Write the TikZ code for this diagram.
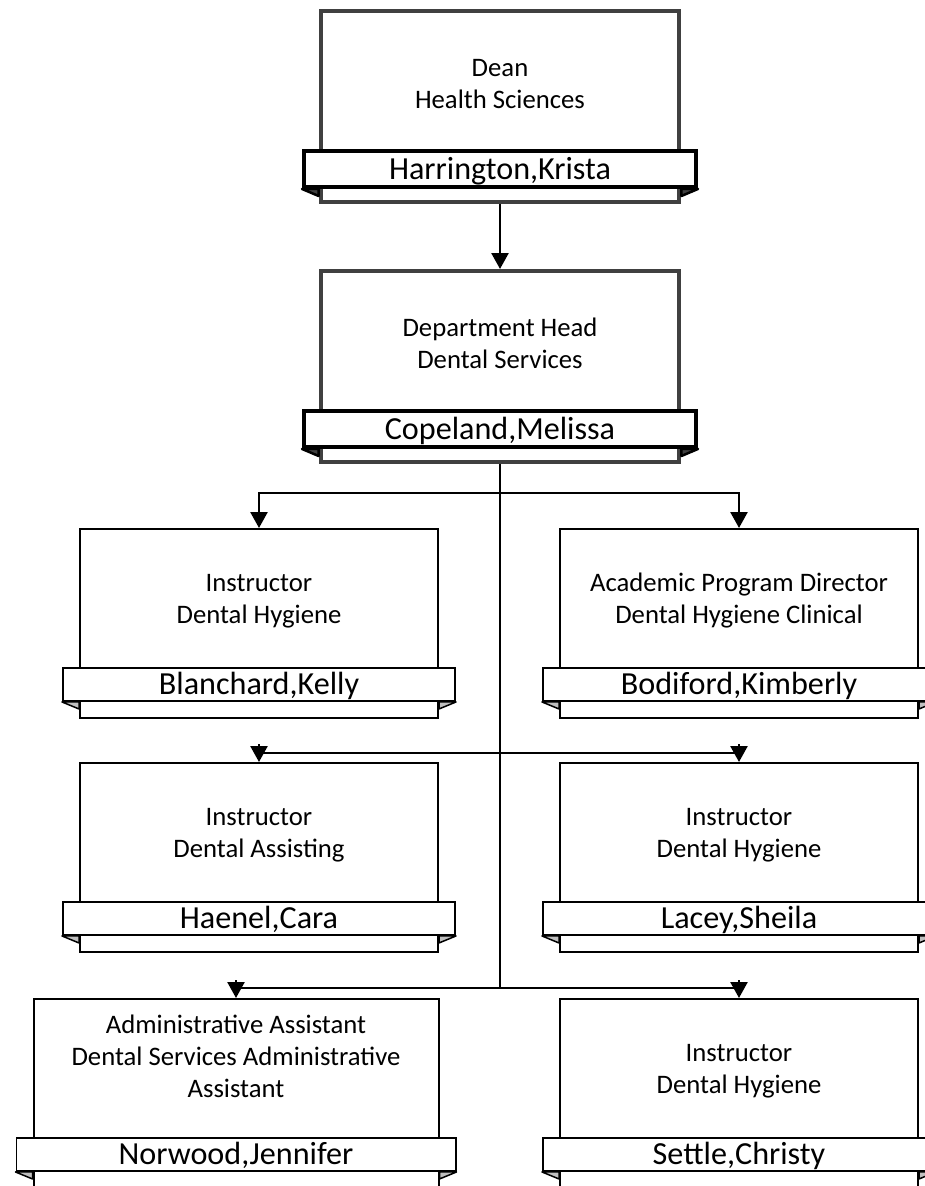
\documentclass[tikz,border=0pt]{standalone}
\usepackage{fontspec}
\setmainfont{Carlito}
\usetikzlibrary{arrows.meta,positioning}

\begin{document}
\begin{tikzpicture}[x=0.02cm,y=-0.02cm,
  >={Triangle[length=0.32cm,width=0.34cm]},
  link/.style={line width=0.05cm},
  headbox/.style={draw=black!75,line width=0.08cm,minimum width=7.18cm,minimum height=3.82cm,inner sep=0pt,anchor=north},
  headbar/.style={draw,fill=white,line width=0.08cm,minimum width=7.84cm,minimum height=0.72cm,inner sep=0pt,
    text height=11.8pt,text depth=0pt,font=\fontsize{18.3}{20}\selectfont},
  staffbox/.style={draw,line width=0.04cm,minimum height=3.78cm,inner sep=0pt,anchor=north},
  staffbar/.style={draw,fill=white,line width=0.04cm,minimum height=0.66cm,inner sep=0pt,
    text height=11.8pt,text depth=0pt,font=\fontsize{18.3}{20}\selectfont},
  jobtitle/.style={align=center,inner sep=0pt,anchor=south,font=\fontsize{15.2}{18.2}\selectfont},
  tail/.style={draw,fill=black!25,line width=0.03cm,line join=round},
  headtail/.style={draw,fill=black!75,line width=0.05cm,line join=round}]

\useasboundingbox (0,0) rectangle (924,1186);

% Dean and department head
\foreach \id/\top/\title/\who in {dean/9/{Dean\\Health Sciences}/{Harrington,Krista},
                                  head/269/{Department Head\\Dental Services}/{Copeland,Melissa}} {
  \node[headbox] (\id) at (500,\top) {};
  \node[jobtitle] (\id-t) at ([yshift=-2cm]\id.north) {\title};
  \node[headbar] (\id-n) at ([yshift=0.7cm]\id.south) {\who};
  \draw[headtail] (\id-n.south west) -- (\id-n.south west -| \id.west) -- ++(0,7) -- cycle;
  \draw[headtail] (\id-n.south east) -- (\id-n.south east -| \id.east) -- ++(0,7) -- cycle;
}

% Staff positions
\foreach \id/\cx/\top/\bw/\title/\who in {
    blan/259/528/358/{Instructor\\Dental Hygiene}/{Blanchard,Kelly},
    bodi/739/528/358/{Academic Program Director\\Dental Hygiene Clinical}/{Bodiford,Kimberly},
    hae/259/762/358/{Instructor\\Dental Assisting}/{Haenel,Cara},
    lac/739/762/358/{Instructor\\Dental Hygiene}/{Lacey,Sheila},
    nor/236/998/405/{Administrative Assistant\\Dental Services Administrative\\Assistant}/{Norwood,Jennifer},
    set/739/998/358/{Instructor\\Dental Hygiene}/{Settle,Christy}} {
  \node[staffbox,minimum width=\bw*0.02cm] (\id) at (\cx,\top) {};
  \node[jobtitle] (\id-t) at ([yshift=-2cm]\id.north) {\title};
  \node[staffbar,minimum width=(\bw+34)*0.02cm] (\id-n) at ([yshift=0.69cm]\id.south) {\who};
  \draw[tail] (\id-n.south west) -- (\id-n.south west -| \id.west) -- ++(0,7) -- cycle;
  \draw[tail] (\id-n.south east) -- (\id-n.south east -| \id.east) -- ++(0,7) -- cycle;
}

% Reporting lines
\coordinate (row2) at (500,493);
\coordinate (row3) at (500,753);
\coordinate (row4) at (500,988);
\draw[link,->] (dean) -- (head);
\draw[link] (head) -- (row4);
\draw[link,->] (row2) -| (blan);
\draw[link,->] (row2) -| (bodi);
\draw[link] (row3 -| hae) -- (row3 -| lac);
\draw[link] (row4 -| nor) -- (row4 -| set);
\foreach \id in {hae,lac,nor,set}
  \draw[link,->] ([yshift=0.36cm]\id.north) -- (\id.north);
\end{tikzpicture}
\end{document}
